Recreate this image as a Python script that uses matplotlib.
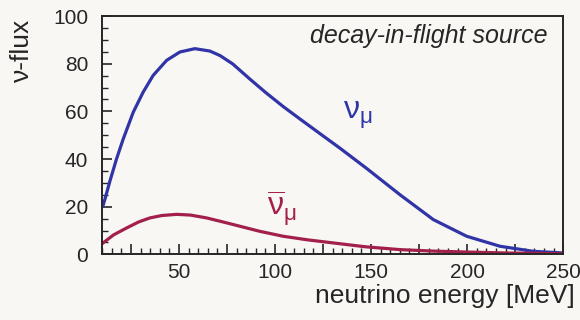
import matplotlib
matplotlib.use("Agg")
import matplotlib.pyplot as plt
from matplotlib.ticker import MultipleLocator

# Data
energy_numu = [10.5, 11.5, 14.1, 17.5, 21, 26.2, 31.4, 36.6, 43.6, 50.5, 58.3, 66.1, 71.4, 78, 87, 95,
               104.3, 113, 123, 133.9, 147.8, 165.1, 182.4, 199.8, 217.2, 234.4, 250]
flux_numu = [20.5, 23.2, 30.8, 40, 48.4, 59.6, 68.1, 75.1, 81.4, 84.9, 86.3, 85.3, 83.4, 79.9, 73.5, 68,
             62, 56.8, 50.9, 44.5, 36, 25, 14.6, 7.6, 3.4, 1.3, 0.6]

energy_nubar = [10.5, 16, 22.8, 29, 34.9, 41, 48.8, 56, 64.4, 73, 81.8, 92, 104.3, 117, 130.4, 147,
                165.1, 182, 199.5, 220, 250]
flux_nubar = [4.8, 8.2, 11.1, 13.6, 15.3, 16.3, 16.8, 16.5, 15.3, 13.6, 11.8, 9.7, 7.6, 6.1, 4.8, 3.2,
              2.0, 1.4, 1.0, 0.6, 0.3]

xticks = [25, 50, 75, 100, 125, 150, 175, 200, 225, 250]
xticklabels = ['', '50', '', '100', '', '150', '', '200', '', '250']
yticks = [0, 20, 40, 60, 80, 100]

plt.rcParams['font.family'] = ['Liberation Sans', 'DejaVu Sans']
plt.rcParams['mathtext.fontset'] = 'custom'
plt.rcParams['mathtext.rm'] = 'Liberation Sans'
plt.rcParams['mathtext.it'] = 'Liberation Sans'
plt.rcParams['mathtext.bf'] = 'Liberation Sans:bold'

bg = '#f8f7f3'
blue = '#3034a6'
red = '#a3204d'
ink = '#262626'

fig = plt.figure(figsize=(5.8, 3.2), dpi=100, facecolor=bg)
ax = fig.add_axes([0.176, 0.205, 0.795, 0.745])
ax.set_facecolor(bg)

ax.plot(energy_numu, flux_numu, color=blue, lw=2.3, solid_joinstyle='round')
ax.plot(energy_nubar, flux_nubar, color=red, lw=2.3, solid_joinstyle='round')

ax.set_xlim(10, 250)
ax.set_ylim(0, 100)
ax.set_xticks(xticks)
ax.set_xticklabels(xticklabels)
ax.set_yticks(yticks)
ax.xaxis.set_minor_locator(MultipleLocator(5))
ax.yaxis.set_minor_locator(MultipleLocator(5))
ax.tick_params(which='major', direction='in', length=7, width=1.2, labelsize=15,
               color=ink, labelcolor=ink)
ax.tick_params(axis='x', which='major', pad=6)
ax.tick_params(axis='y', which='major', pad=10)
ax.tick_params(which='minor', direction='in', length=4, width=1.0, color=ink)
for s in ax.spines.values():
    s.set_linewidth(1.4)
    s.set_color(ink)

ax.set_ylabel('ν-flux', fontsize=19, color=ink)
ax.yaxis.set_label_coords(-0.174, 0.857)
ax.yaxis.label.set_verticalalignment('center')

ax.set_xlabel('neutrino energy [MeV]', fontsize=19, color=ink)
ax.xaxis.set_label_coords(1.026, -0.205)
ax.xaxis.label.set_horizontalalignment('right')
ax.xaxis.label.set_verticalalignment('baseline')

ax.text(0.967, 0.886, 'decay-in-flight source', transform=ax.transAxes, ha='right', va='baseline',
        fontsize=18, style='italic', color=ink)

ax.text(135.4, 57, r'$\nu_{\mu}$', color=blue, fontsize=23, ha='left', va='baseline')
ax.text(95.8, 16.0, r'$\overline{\nu}_{\mu}$', color=red, fontsize=23, ha='left', va='baseline')

fig.savefig('out.png', dpi=100, facecolor=bg)
